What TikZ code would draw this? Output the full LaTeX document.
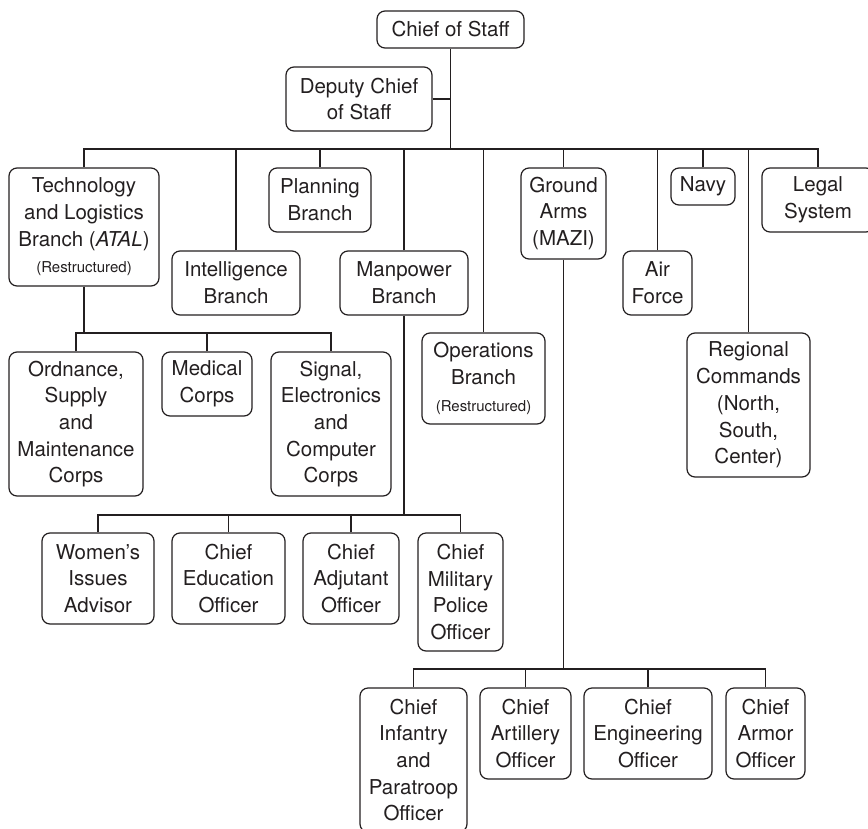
\documentclass[tikz,border=0pt]{standalone}
\usepackage{fontspec}
\setmainfont{TeX Gyre Heros}
\definecolor{ink}{RGB}{35,31,32}
\tikzset{
  box/.style={draw=ink, line width=1.2pt, rounded corners=8pt, align=center, inner sep=0pt,
    text=ink, font=\fontsize{20.5}{26.7}\selectfont},
  conn/.style={draw=ink, line width=1.8pt},
}
\newcommand{\smallnote}[1]{{\fontsize{15}{18}\selectfont #1}}
\begin{document}
\begin{tikzpicture}[x=1pt, y=-1pt]
\useasboundingbox (0,0) rectangle (868,828);
% level 0/1
\node[box, minimum width=147pt, minimum height=37pt] (cos) at (450.5,29.5) {Chief of Staff};
\node[box, minimum width=146pt, minimum height=64pt] (dep) at (359,99) {Deputy Chief\\of Staff};
% level 2
\node[box, minimum width=150pt, minimum height=118pt] (tech) at (84,227) {Technology\\and Logistics\\Branch (\textit{ATAL})\\\smallnote{(Restructured)}};
\node[box, minimum width=128pt, minimum height=64pt] (intel) at (236,283) {Intelligence\\Branch};
\node[box, minimum width=102pt, minimum height=64pt] (plan) at (320,200) {Planning\\Branch};
\node[box, minimum width=128pt, minimum height=64pt] (man) at (404,283) {Manpower\\Branch};
\node[box, minimum width=123pt, minimum height=91pt] (ops) at (483.5,378.5) {Operations\\Branch\\\smallnote{(Restructured)}};
\node[box, minimum width=85pt, minimum height=91pt] (ground) at (563.5,213.5) {Ground\\Arms\\(MAZI)};
\node[box, minimum width=69pt, minimum height=64pt] (air) at (657.5,283) {Air\\Force};
\node[box, minimum width=64pt, minimum height=37pt] (navy) at (703,186.5) {Navy};
\node[box, minimum width=123pt, minimum height=144pt] (reg) at (748.5,405) {Regional\\Commands\\(North,\\South,\\Center)};
\node[box, minimum width=112pt, minimum height=64pt] (legal) at (818,200) {Legal\\System};
% technology subs
\node[box, minimum width=134pt, minimum height=144pt] (ord) at (76,424) {Ordnance,\\Supply\\and\\Maintenance\\Corps};
\node[box, minimum width=90pt, minimum height=64pt] (med) at (207,384) {Medical\\Corps};
\node[box, minimum width=120pt, minimum height=144pt] (sig) at (331,424) {Signal,\\Electronics\\and\\Computer\\Corps};
% manpower subs
\node[box, minimum width=112pt, minimum height=91pt] (wom) at (98,578.5) {Women's\\Issues\\Advisor};
\node[box, minimum width=113pt, minimum height=91pt] (edu) at (228.5,578.5) {Chief\\Education\\Officer};
\node[box, minimum width=96pt, minimum height=91pt] (adj) at (351,578.5) {Chief\\Adjutant\\Officer};
\node[box, minimum width=85pt, minimum height=118pt] (mp) at (460.5,592) {Chief\\Military\\Police\\Officer};
% ground arms subs
\node[box, minimum width=107pt, minimum height=144pt] (inf) at (413.5,760) {Chief\\Infantry\\and\\Paratroop\\Officer};
\node[box, minimum width=91pt, minimum height=91pt] (art) at (525.5,733.5) {Chief\\Artillery\\Officer};
\node[box, minimum width=128pt, minimum height=91pt] (eng) at (648,733.5) {Chief\\Engineering\\Officer};
\node[box, minimum width=79pt, minimum height=91pt] (arm) at (765.5,733.5) {Chief\\Armor\\Officer};
% bus levels
\coordinate (busA) at (0,149);
\coordinate (busB) at (0,333);
\coordinate (busC) at (0,515);
\coordinate (busD) at (0,669);
% connectors level 2
\draw[conn] (cos.south) -- (cos.south |- busA);
\draw[conn] (dep.east) -- (dep.east -| cos.south);
\draw[conn] (tech.north) -- (tech.north |- busA) -- (legal.north |- busA) -- (legal.north);
\foreach \n in {intel,plan,man,ground,air,navy}
  \draw[conn] (\n.north) -- (\n.north |- busA);
\draw[conn] (ops.north) -- (ops.north |- busA);
\draw[conn] (reg.north) -- (reg.north |- busA);
% technology subs
\draw[conn] (tech.south) -- (tech.south |- busB);
\draw[conn] (ord.north) -- (ord.north |- busB) -- (sig.north |- busB) -- (sig.north);
\draw[conn] (med.north) -- (med.north |- busB);
% manpower subs
\draw[conn] (man.south) -- (man.south |- busC);
\draw[conn] (wom.north) -- (wom.north |- busC) -- (mp.north |- busC) -- (mp.north);
\draw[conn] (edu.north) -- (edu.north |- busC);
\draw[conn] (adj.north) -- (adj.north |- busC);
% ground arms subs
\draw[conn] (ground.south) -- (ground.south |- busD);
\draw[conn] (inf.north) -- (inf.north |- busD) -- (arm.north |- busD) -- (arm.north);
\draw[conn] (art.north) -- (art.north |- busD);
\draw[conn] (eng.north) -- (eng.north |- busD);
\end{tikzpicture}
\end{document}
